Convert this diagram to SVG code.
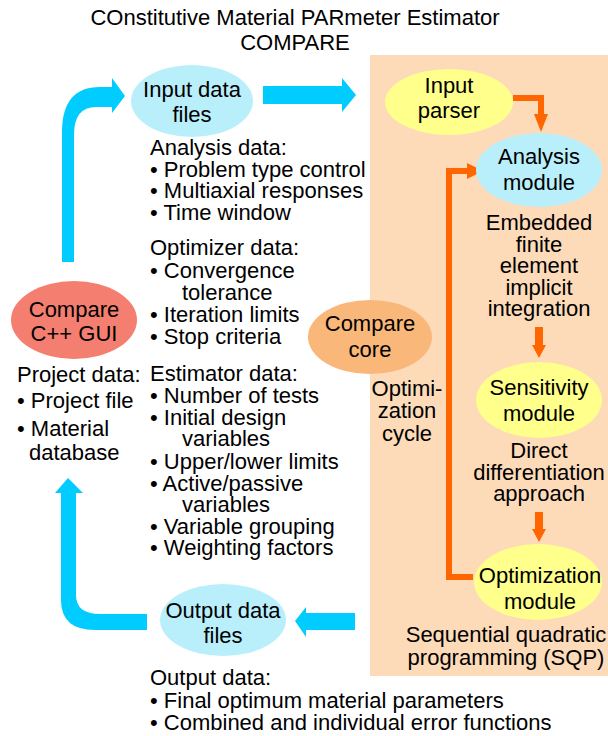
<svg xmlns="http://www.w3.org/2000/svg" width="608" height="736" viewBox="0 0 608 736">
<style>
text{font-family:"Liberation Sans",Arial,sans-serif;font-size:22px;fill:#000}
.c{text-anchor:middle}
.lb{fill:#b9effb}
.yl{fill:#ffff8c}
.blue{fill:#00ccff}
.or{fill:#ff6600}
.ol{fill:none;stroke:#ff6600;stroke-width:6}
</style>
<rect x="0" y="0" width="608" height="736" fill="#fff"/>
<rect id="panel" x="370" y="55" width="238" height="621" fill="#fddbb9"/>
<g id="title">
<text class="c" x="295" y="25">COnstitutive Material PARmeter Estimator</text>
<text class="c" x="295" y="50">COMPARE</text>
</g>
<g id="connectors">
<path class="blue" d="M62,262 L62,132 Q62,87 100,87 L112,87 L112,78 L125,96 L112,113 L112,107 L96,107 Q74,107 74,135 L74,262 Z"/>
<path class="blue" d="M61,493 L55,493 L68,478 L83,493 L76,493 L76,595 Q76,614 100,614 L147,614 L147,630 L95,630 Q61,630 61,600 Z"/>
<path class="blue" d="M263,86 L342,86 L342,78 L356,95 L342,112 L342,104 L263,104 Z"/>
<path class="blue" d="M355,613 L306,613 L306,607 L295,621 L306,637 L306,630 L355,630 Z"/>
<path class="ol" d="M513,98 L541,98 L541,116"/>
<path class="or" d="M534,114 L548,114 L541,132 Z"/>
<path class="ol" d="M473,577 L449,577 L449,171 L470,171"/>
<path class="or" d="M467,163 L483,171 L467,179 Z"/>
<rect class="or" x="535" y="327" width="8" height="19"/>
<path class="or" d="M532,345 L546,345 L539,358 Z"/>
<rect class="or" x="535" y="512" width="8" height="18"/>
<path class="or" d="M532,529 L546,529 L539,542 Z"/>
</g>
<g id="input-data-files">
<ellipse class="lb" cx="192" cy="101" rx="61" ry="36"/>
<text class="c" x="192" y="97">Input data</text>
<text class="c" x="192" y="122">files</text>
</g>
<g id="input-parser">
<ellipse class="yl" cx="449" cy="102" rx="64" ry="33"/>
<text class="c" x="449" y="93">Input</text>
<text class="c" x="449" y="118">parser</text>
</g>
<g id="analysis-module">
<ellipse class="lb" cx="539" cy="170" rx="63" ry="37"/>
<text class="c" x="539" y="164">Analysis</text>
<text class="c" x="539" y="190">module</text>
<text class="c" x="539" y="230">Embedded</text>
<text class="c" x="539" y="252">finite</text>
<text class="c" x="539" y="273">element</text>
<text class="c" x="539" y="295">implicit</text>
<text class="c" x="539" y="316">integration</text>
</g>
<g id="sensitivity-module">
<ellipse class="yl" cx="539" cy="400" rx="63" ry="38"/>
<text class="c" x="539" y="395">Sensitivity</text>
<text class="c" x="539" y="421">module</text>
<text class="c" x="539" y="458">Direct</text>
<text class="c" x="539" y="480">differentiation</text>
<text class="c" x="539" y="501">approach</text>
</g>
<g id="optimization-module">
<ellipse class="yl" cx="538" cy="582" rx="64" ry="38"/>
<text class="c" x="540" y="583">Optimization</text>
<text class="c" x="540" y="609">module</text>
<text class="c" x="506" y="642">Sequential quadratic</text>
<text class="c" x="506" y="665">programming (SQP)</text>
</g>
<g id="compare-core">
<ellipse cx="370" cy="337" rx="62" ry="37" fill="#f9b77a"/>
<text class="c" x="370" y="331">Compare</text>
<text class="c" x="370" y="357">core</text>
<text class="c" x="407" y="396">Optimi-</text>
<text class="c" x="407" y="418">zation</text>
<text class="c" x="407" y="441">cycle</text>
</g>
<g id="compare-gui">
<ellipse cx="74" cy="320" rx="63" ry="39" fill="#f47f70"/>
<text class="c" x="74" y="317">Compare</text>
<text class="c" x="74" y="341">C++ GUI</text>
<text x="17" y="382">Project data:</text>
<text x="17" y="408">• Project file</text>
<text x="17" y="436">• Material</text>
<text x="29" y="460">database</text>
</g>
<g id="output-data-files">
<ellipse class="lb" cx="223" cy="620" rx="63" ry="36"/>
<text class="c" x="223" y="618">Output data</text>
<text class="c" x="223" y="643">files</text>
<text x="150" y="685">Output data:</text>
<text x="150" y="708">• Final optimum material parameters</text>
<text x="150" y="730">• Combined and individual error functions</text>
</g>
<g id="data-lists">
<text x="150" y="155">Analysis data:</text>
<text x="150" y="177">• Problem type control</text>
<text x="150" y="198">• Multiaxial responses</text>
<text x="150" y="220">• Time window</text>
<text x="150" y="255">Optimizer data:</text>
<text x="150" y="278">• Convergence</text>
<text x="182" y="300">tolerance</text>
<text x="150" y="322">• Iteration limits</text>
<text x="150" y="344">• Stop criteria</text>
<text x="150" y="381">Estimator data:</text>
<text x="150" y="403">• Number of tests</text>
<text x="150" y="425">• Initial design</text>
<text x="182" y="446">variables</text>
<text x="150" y="469">• Upper/lower limits</text>
<text x="150" y="491">• Active/passive</text>
<text x="182" y="512">variables</text>
<text x="150" y="534">• Variable grouping</text>
<text x="150" y="555">• Weighting factors</text>
</g>
</svg>
